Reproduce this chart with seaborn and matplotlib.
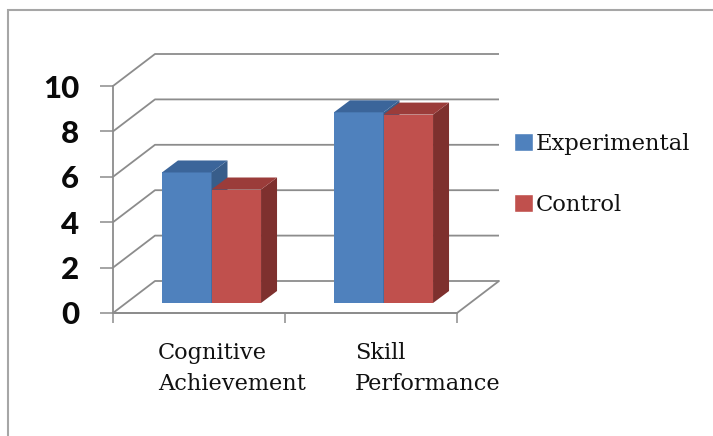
"""3D-style grouped bar chart: Experimental vs Control scores."""
import matplotlib.pyplot as plt
import numpy as np
import pandas as pd
import seaborn as sns
from matplotlib.patches import Polygon, Rectangle

categories = ["Cognitive\nAchievement", "Skill\nPerformance"]
groups = ["Experimental", "Control"]
experimental = [5.75, 8.4]
control = [5.0, 8.3]
y_ticks = [0, 2, 4, 6, 8, 10]

FRONT = {"Experimental": "#4F81BD", "Control": "#C0504D"}
TOP = {"Experimental": "#3B659A", "Control": "#9B3C3A"}
SIDE = {"Experimental": "#385D8A", "Control": "#7E302E"}
GRID = "#8C8C8C"

W, H = 713, 436
SX, SY = 172.0, 22.7          # pixels per data unit
X0_PX, Y0_PX = 113, 313       # front axis origin in pixels
f = np.array([-12.5 / SX, -10 / SY])   # front frame relative to bar face
D = np.array([42 / SX, 32 / SY])       # full depth of the box
d = np.array([16 / SX, 12 / SY])       # depth of a bar
b = f + D

sns.set_theme(style="white")
plt.rcParams["font.family"] = ["DejaVu Sans"]

df = pd.DataFrame({
    "Category": np.repeat(categories, 2),
    "Group": groups * 2,
    "Score": [v for pair in zip(experimental, control) for v in pair],
})

fig = plt.figure(figsize=(W / 100, H / 100), dpi=100)
ax = fig.add_axes([0, 0, 1, 1])

sns.barplot(data=df, x="Category", y="Score", hue="Group", hue_order=groups,
            palette=FRONT, width=0.576, saturation=1, ax=ax, zorder=3)

x_left = -0.5 + f[0]
ax.set_xlim(x_left - X0_PX / SX, x_left + (W - X0_PX) / SX)
ax.set_ylim(f[1] - (H - Y0_PX) / SY, f[1] + Y0_PX / SY)

# box: left wall, back wall, floor
xl, xr = -0.5, 1.5
for v in y_ticks:
    ax.plot([xl + f[0], xl + b[0], xr + b[0]], [v + f[1], v + b[1], v + b[1]],
            color=GRID, lw=1.3, zorder=1, solid_capstyle="butt")
ax.plot([xl + f[0], xr + f[0], xr + b[0]], [f[1], f[1], b[1]],
        color=GRID, lw=1.3, zorder=1)

# extrude bars: side and top faces
n_cat = len(categories)
for i, patch in enumerate(ax.patches[: 2 * n_cat]):
    grp = groups[i // n_cat]
    x, w, h = patch.get_x(), patch.get_width(), patch.get_height()
    z = 3 + (i // n_cat) * 0.5
    patch.set_zorder(z)
    patch.set_edgecolor("none")
    side = [(x + w, 0), (x + w + d[0], d[1]), (x + w + d[0], h + d[1]), (x + w, h)]
    top = [(x, h), (x + w, h), (x + w + d[0], h + d[1]), (x + d[0], h + d[1])]
    ax.add_patch(Polygon(side, closed=True, fc=SIDE[grp], ec="none", zorder=z + 0.1))
    ax.add_patch(Polygon(top, closed=True, fc=TOP[grp], ec="none", zorder=z + 0.2))

# axes spines at the front of the box
for s in ["top", "right"]:
    ax.spines[s].set_visible(False)
ax.spines["left"].set_position(("data", xl + f[0]))
ax.spines["left"].set_bounds(f[1], 10 + f[1])
ax.spines["bottom"].set_position(("data", f[1]))
ax.spines["bottom"].set_bounds(xl + f[0], xr + f[0])
for s in ["left", "bottom"]:
    ax.spines[s].set_color(GRID)
    ax.spines[s].set_linewidth(1.3)
    ax.spines[s].set_zorder(1)

ax.set_yticks([v + f[1] for v in y_ticks], [str(v) for v in y_ticks])
ax.set_xticks([xl + f[0], 0.5 + f[0], xr + f[0]], ["", "", ""])
ax.tick_params(axis="y", direction="out", length=9.4, width=1.1, color=GRID,
               pad=15, labelsize=22.5, left=True)
ax.tick_params(axis="x", direction="out", length=7.5, width=1.1, color=GRID, bottom=True)
for lab in ax.get_yticklabels():
    lab.set_family(["Lato", "DejaVu Sans"])
    lab.set_fontweight("black")
    lab.set_color("#0A0A0A")
ax.set_xlabel("")
ax.set_ylabel("")

# category labels
label_left_px = [158, 355]
for cat, px in zip(categories, label_left_px):
    ax.text(x_left + (px - X0_PX) / SX, f[1] - 29 / SY, cat, ha="left", va="top",
            fontsize=16.2, family=["DejaVu Serif"], color="#111111", linespacing=1.55)

sns.move_legend(ax, "upper left", bbox_to_anchor=(505 / W, 1 - 124 / H), title=None,
                frameon=False, handlelength=0.85, handleheight=0.85,
                handletextpad=0.1, labelspacing=1.72, borderaxespad=0,
                prop={"family": "DejaVu Serif", "size": 16.3})
for t in ax.get_legend().get_texts():
    t.set_color("#111111")

# outer frame
fig.patches.append(Rectangle((8 / W, -0.1), 1.2, 1.1 - 10 / H, transform=fig.transFigure,
                             fill=False, ec="#A6A6A6", lw=1.5))

fig.savefig("out.png", dpi=100)
